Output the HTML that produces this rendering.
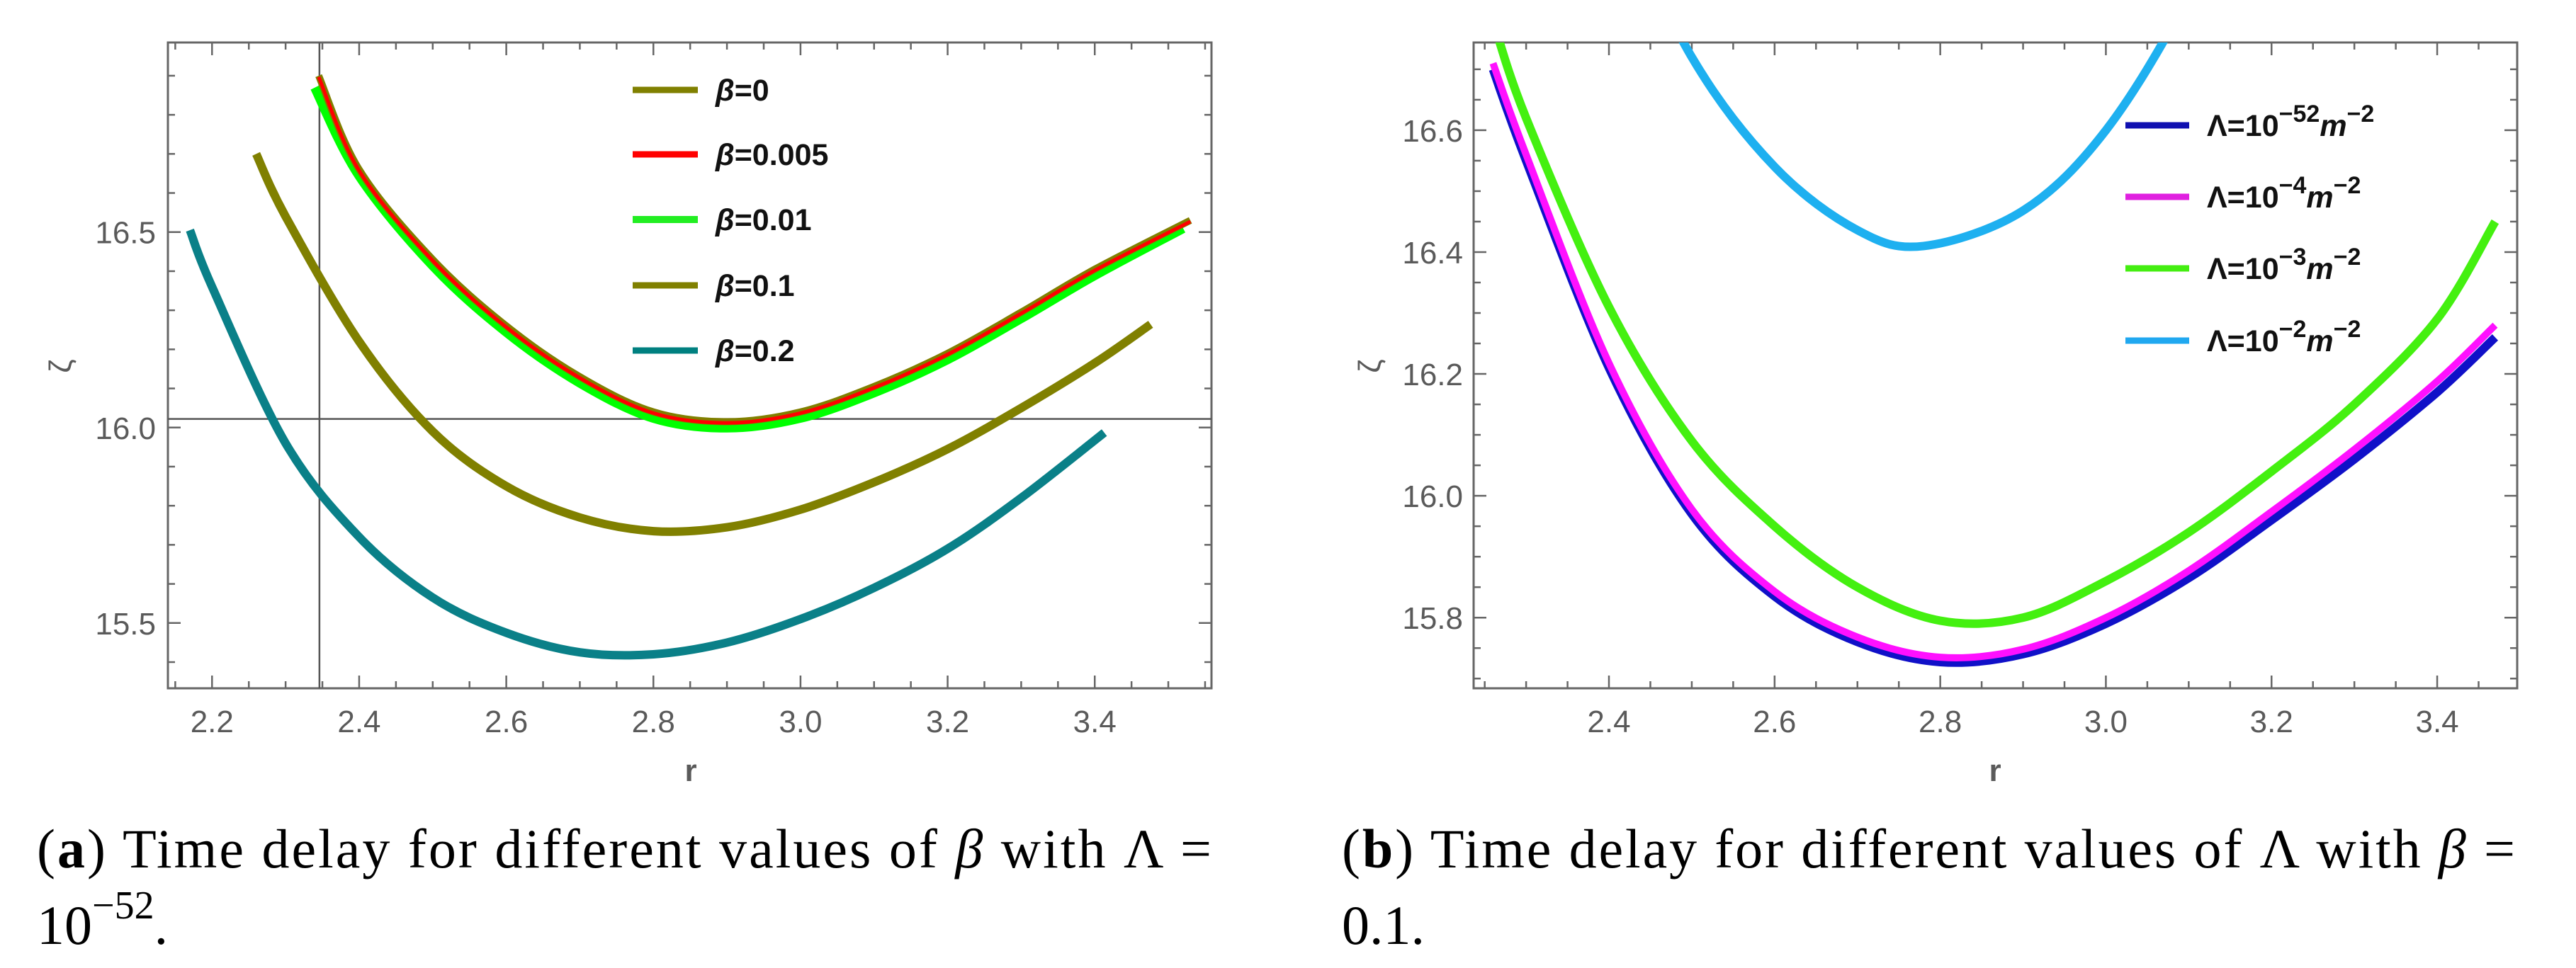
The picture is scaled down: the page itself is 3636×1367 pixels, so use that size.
<!DOCTYPE html>
<html><head><meta charset="utf-8"><style>
html,body{margin:0;padding:0;background:#fff;}
svg{display:block;}
.tk{font-family:"Liberation Sans",sans-serif;font-size:44px;fill:#5a5a5a;}
.lg{font-family:"Liberation Sans",sans-serif;font-size:43px;font-weight:bold;fill:#111;}
.cap{font-family:"Liberation Serif",serif;font-size:78px;fill:#000;}
</style></head><body>
<svg id="root" width="3636" height="1367" viewBox="0 0 3636 1367" xmlns="http://www.w3.org/2000/svg">
<defs>
<clipPath id="clipA"><rect x="237" y="60" width="1473" height="912"/></clipPath>
<clipPath id="clipB"><rect x="2080" y="60" width="1473" height="912"/></clipPath>
</defs>
<g id="panelA"></g>
<g id="panelB"></g>

<g>
<line x1="893" y1="127" x2="985" y2="127" stroke="#808000" stroke-width="9"/>
<text class="lg" x="1010" y="142"><tspan font-style="italic">β</tspan>=0</text>
<line x1="893" y1="218" x2="985" y2="218" stroke="#ff0000" stroke-width="9"/>
<text class="lg" x="1010" y="233"><tspan font-style="italic">β</tspan>=0.005</text>
<line x1="893" y1="310" x2="985" y2="310" stroke="#22ee22" stroke-width="10"/>
<text class="lg" x="1010" y="325"><tspan font-style="italic">β</tspan>=0.01</text>
<line x1="893" y1="403" x2="985" y2="403" stroke="#808000" stroke-width="9"/>
<text class="lg" x="1010" y="418"><tspan font-style="italic">β</tspan>=0.1</text>
<line x1="893" y1="495" x2="985" y2="495" stroke="#008080" stroke-width="9"/>
<text class="lg" x="1010" y="510"><tspan font-style="italic">β</tspan>=0.2</text>
</g>

<g>
<line x1="3000" y1="177" x2="3090" y2="177" stroke="#1010b0" stroke-width="9"/>
<text class="lg" x="3115" y="192">Λ=10<tspan dy="-20" font-size="34">−52</tspan><tspan dy="20" font-style="italic">m</tspan><tspan dy="-20" font-size="34">−2</tspan></text>
<line x1="3000" y1="278" x2="3090" y2="278" stroke="#e020e0" stroke-width="9"/>
<text class="lg" x="3115" y="293">Λ=10<tspan dy="-20" font-size="34">−4</tspan><tspan dy="20" font-style="italic">m</tspan><tspan dy="-20" font-size="34">−2</tspan></text>
<line x1="3000" y1="379" x2="3090" y2="379" stroke="#44ee11" stroke-width="9"/>
<text class="lg" x="3115" y="394">Λ=10<tspan dy="-20" font-size="34">−3</tspan><tspan dy="20" font-style="italic">m</tspan><tspan dy="-20" font-size="34">−2</tspan></text>
<line x1="3000" y1="481" x2="3090" y2="481" stroke="#20a8f0" stroke-width="9"/>
<text class="lg" x="3115" y="496">Λ=10<tspan dy="-20" font-size="34">−2</tspan><tspan dy="20" font-style="italic">m</tspan><tspan dy="-20" font-size="34">−2</tspan></text>
</g>

<g>
<text class="cap" x="52" y="1225" textLength="1658" lengthAdjust="spacing">(<tspan font-weight="bold">a</tspan>)  Time delay for different values of <tspan font-style="italic">β</tspan> with Λ =</text>
<text class="cap" x="52" y="1333">10<tspan dy="-36" font-size="56">−52</tspan><tspan dy="36">.</tspan></text>
</g>
<g>
<text class="cap" x="1894" y="1225" textLength="1656" lengthAdjust="spacing">(<tspan font-weight="bold">b</tspan>) Time delay for different values of Λ with <tspan font-style="italic">β</tspan> =</text>
<text class="cap" x="1894" y="1333">0.1.</text>
</g>
</svg>
<script>
// Panel (a) data
const rBeta0 = [2.345,2.4,2.5,2.6,2.7,2.8,2.9,3.0,3.1,3.2,3.3,3.4,3.53];
const zBeta0 = [16.90,16.66,16.43,16.26,16.13,16.04,16.015,16.04,16.105,16.19,16.295,16.405,16.53];
const rBeta005 = [2.345,2.4,2.5,2.6,2.7,2.8,2.9,3.0,3.1,3.2,3.3,3.4,3.53];
const zBeta005 = [16.897,16.657,16.427,16.257,16.127,16.037,16.012,16.037,16.102,16.187,16.292,16.402,16.527];
const rBeta01 = [2.34,2.4,2.5,2.6,2.7,2.8,2.9,3.0,3.1,3.2,3.3,3.4,3.52];
const zBeta01 = [16.87,16.645,16.415,16.245,16.115,16.025,16.0,16.025,16.09,16.175,16.28,16.39,16.51];
const rBeta1 = [2.26,2.3,2.4,2.5,2.6,2.7,2.8,2.9,3.0,3.1,3.2,3.3,3.4,3.476];
const zBeta1 = [16.70,16.54,16.22,15.99,15.85,15.77,15.735,15.745,15.79,15.86,15.945,16.05,16.165,16.264];
const rBeta2 = [2.17,2.2,2.3,2.4,2.5,2.6,2.7,2.8,2.9,3.0,3.1,3.2,3.3,3.413];
const zBeta2 = [16.505,16.36,15.96,15.72,15.565,15.475,15.425,15.42,15.45,15.51,15.59,15.69,15.82,15.987];
const xTicksA = [2.2,2.4,2.6,2.8,3.0,3.2,3.4];
const xTickLabelsA = ["2.2","2.4","2.6","2.8","3.0","3.2","3.4"];
const yTicksA = [15.5,16.0,16.5];
const yTickLabelsA = ["15.5","16.0","16.5"];
// Panel (b) data
const rL52 = [2.26,2.3,2.4,2.5,2.6,2.7,2.8,2.9,3.0,3.1,3.2,3.3,3.4,3.47];
const zL52 = [16.70,16.55,16.21,15.97,15.835,15.76,15.727,15.74,15.79,15.865,15.96,16.06,16.17,16.26];
const rL4 = [2.26,2.3,2.4,2.5,2.6,2.7,2.8,2.9,3.0,3.1,3.2,3.3,3.4,3.47];
const zL4 = [16.71,16.56,16.218,15.978,15.843,15.768,15.735,15.748,15.80,15.877,15.974,16.076,16.188,16.28];
const rL3 = [2.26,2.3,2.4,2.5,2.6,2.7,2.8,2.9,3.0,3.1,3.2,3.3,3.4,3.47];
const zL3 = [16.78,16.62,16.31,16.09,15.95,15.85,15.795,15.80,15.86,15.94,16.04,16.15,16.29,16.45];
const rL2 = [2.4,2.5,2.6,2.7,2.78,2.9,3.0,3.1,3.2];
const zL2 = [17.0,16.72,16.54,16.436,16.41,16.468,16.60,16.82,17.1];
const xTicksB = [2.4,2.6,2.8,3.0,3.2,3.4];
const xTickLabelsB = ["2.4","2.6","2.8","3.0","3.2","3.4"];
const yTicksB = [15.8,16.0,16.2,16.4,16.6];
const yTickLabelsB = ["15.8","16.0","16.2","16.4","16.6"];

const NS = "http://www.w3.org/2000/svg";
function mk(tag, attrs, parent){
  const e = document.createElementNS(NS, tag);
  for (const k in attrs) e.setAttribute(k, attrs[k]);
  parent.appendChild(e);
  return e;
}
function scale(d0,d1,p0,p1){ return v => p0 + (v-d0)/(d1-d0)*(p1-p0); }
function pathFrom(xs, ys, sx, sy){
  const P = xs.map((x,i)=>[sx(x), sy(ys[i])]);
  let d = "M"+P[0][0].toFixed(1)+","+P[0][1].toFixed(1);
  for (let i=0;i<P.length-1;i++){
    const p0=P[Math.max(0,i-1)], p1=P[i], p2=P[i+1], p3=P[Math.min(P.length-1,i+2)];
    const c1=[p1[0]+(p2[0]-p0[0])/6, p1[1]+(p2[1]-p0[1])/6];
    const c2=[p2[0]-(p3[0]-p1[0])/6, p2[1]-(p3[1]-p1[1])/6];
    d += "C"+c1[0].toFixed(1)+","+c1[1].toFixed(1)+" "+c2[0].toFixed(1)+","+c2[1].toFixed(1)+" "+p2[0].toFixed(1)+","+p2[1].toFixed(1);
  }
  return d;
}
function frame(g, L, T, R, B, sx, sy, xd, yd, xMinorStep, yMinorStep, xMaj, xLab, yMaj, yLab, labRight){
  const ax = mk("g", {}, g);
  
  
  mk("rect",{x:L,y:T,width:R-L,height:B-T,fill:"none",stroke:"#666",'stroke-width':3}, ax);
  for (let v=Math.ceil(xd[0]/xMinorStep-1e-6)*xMinorStep; v<=xd[1]+1e-9; v+=xMinorStep){
    const x=sx(v);
    const isMaj = xMaj.some(m=>Math.abs(m-v)<1e-6);
    const len = isMaj?18:10;
    mk("line",{x1:x,y1:B,x2:x,y2:B-len,stroke:"#666",'stroke-width':2.5}, ax);
    mk("line",{x1:x,y1:T,x2:x,y2:T+len,stroke:"#666",'stroke-width':2.5}, ax);
  }
  for (let v=Math.ceil(yd[0]/yMinorStep-1e-6)*yMinorStep; v<=yd[1]+1e-9; v+=yMinorStep){
    const y=sy(v);
    const isMaj = yMaj.some(m=>Math.abs(m-v)<1e-6);
    const len = isMaj?18:10;
    mk("line",{x1:L,y1:y,x2:L+len,y2:y,stroke:"#666",'stroke-width':2.5}, ax);
    mk("line",{x1:R,y1:y,x2:R-len,y2:y,stroke:"#666",'stroke-width':2.5}, ax);
  }
  xMaj.forEach((v,i)=>{
    const t = mk("text",{x:sx(v), y:B+62, 'text-anchor':'middle', class:'tk'}, ax);
    t.textContent = xLab[i];
    
    
  });
  yMaj.forEach((v,i)=>{
    const t = mk("text",{x:labRight, y:sy(v)+16, 'text-anchor':'end', class:'tk'}, ax);
    t.textContent = yLab[i];
    
    
  });
}
function curve(g, xs, ys, sx, sy, color, w, clip, name){
  const p = mk("path",{d:pathFrom(xs,ys,sx,sy), fill:"none", stroke:color, 'stroke-width':w, 'stroke-linecap':'butt', 'stroke-linejoin':'round', 'clip-path':'url(#'+clip+')'}, g);
  
  
}

// Panel A
(function(){
  const g = document.getElementById("panelA");
  const L=237,T=60,R=1710,B=972;
  const xd=[2.140,3.5587], yd=[15.333,16.985];
  const sx=scale(xd[0],xd[1],L,R), sy=scale(yd[0],yd[1],B,T);
  frame(g,L,T,R,B,sx,sy,xd,yd,0.05,0.1,xTicksA,xTickLabelsA,yTicksA,yTickLabelsA,220);
  const rl = mk("line",{x1:L,y1:sy(16.022),x2:R,y2:sy(16.022),stroke:"#555",'stroke-width':2.5}, g);
  
  
  const vl = mk("line",{x1:sx(2.346),y1:T,x2:sx(2.346),y2:B,stroke:"#555",'stroke-width':2.5}, g);
  
  
  curve(g, rBeta2, zBeta2, sx, sy, "#0a8088", 12, "clipA", "curve-beta-0.2");
  curve(g, rBeta1, zBeta1, sx, sy, "#808000", 12, "clipA", "curve-beta-0.1");
  curve(g, rBeta01, zBeta01, sx, sy, "#00ff00", 14, "clipA", "curve-beta-0.01");
  curve(g, rBeta0, zBeta0, sx, sy, "#808000", 10, "clipA", "curve-beta-0");
  curve(g, rBeta005, zBeta005, sx, sy, "#ff0000", 5, "clipA", "curve-beta-0.005");
  const xl = mk("text",{x:975,y:1103,'text-anchor':'middle',class:'tk','font-weight':'bold'}, g);
  xl.textContent="r";
  
  
  const yl = mk("text",{x:0,y:0,'text-anchor':'middle',class:'tk',transform:'translate(100,517) rotate(-90)'}, g);
  yl.textContent="ζ";
  
  
})();

// Panel B
(function(){
  const g = document.getElementById("panelB");
  const L=2080,T=60,R=3553,B=972;
  const xd=[2.2366,3.4966], yd=[15.684,16.744];
  const sx=scale(xd[0],xd[1],L,R), sy=scale(yd[0],yd[1],B,T);
  frame(g,L,T,R,B,sx,sy,xd,yd,0.05,0.05,xTicksB,xTickLabelsB,yTicksB,yTickLabelsB,2065);
  curve(g, rL2, zL2, sx, sy, "#1eb0f0", 12, "clipB", "curve-lambda-1e-2");
  curve(g, rL3, zL3, sx, sy, "#44f010", 12, "clipB", "curve-lambda-1e-3");
  curve(g, rL52, zL52, sx, sy, "#1010c8", 12, "clipB", "curve-lambda-1e-52");
  curve(g, rL4, zL4, sx, sy, "#ff10ff", 10, "clipB", "curve-lambda-1e-4");
  const xl = mk("text",{x:2816,y:1103,'text-anchor':'middle',class:'tk','font-weight':'bold'}, g);
  xl.textContent="r";
  
  
  const yl = mk("text",{x:0,y:0,'text-anchor':'middle',class:'tk',transform:'translate(1948,517) rotate(-90)'}, g);
  yl.textContent="ζ";
  
  
})();
</script>
</body></html>
